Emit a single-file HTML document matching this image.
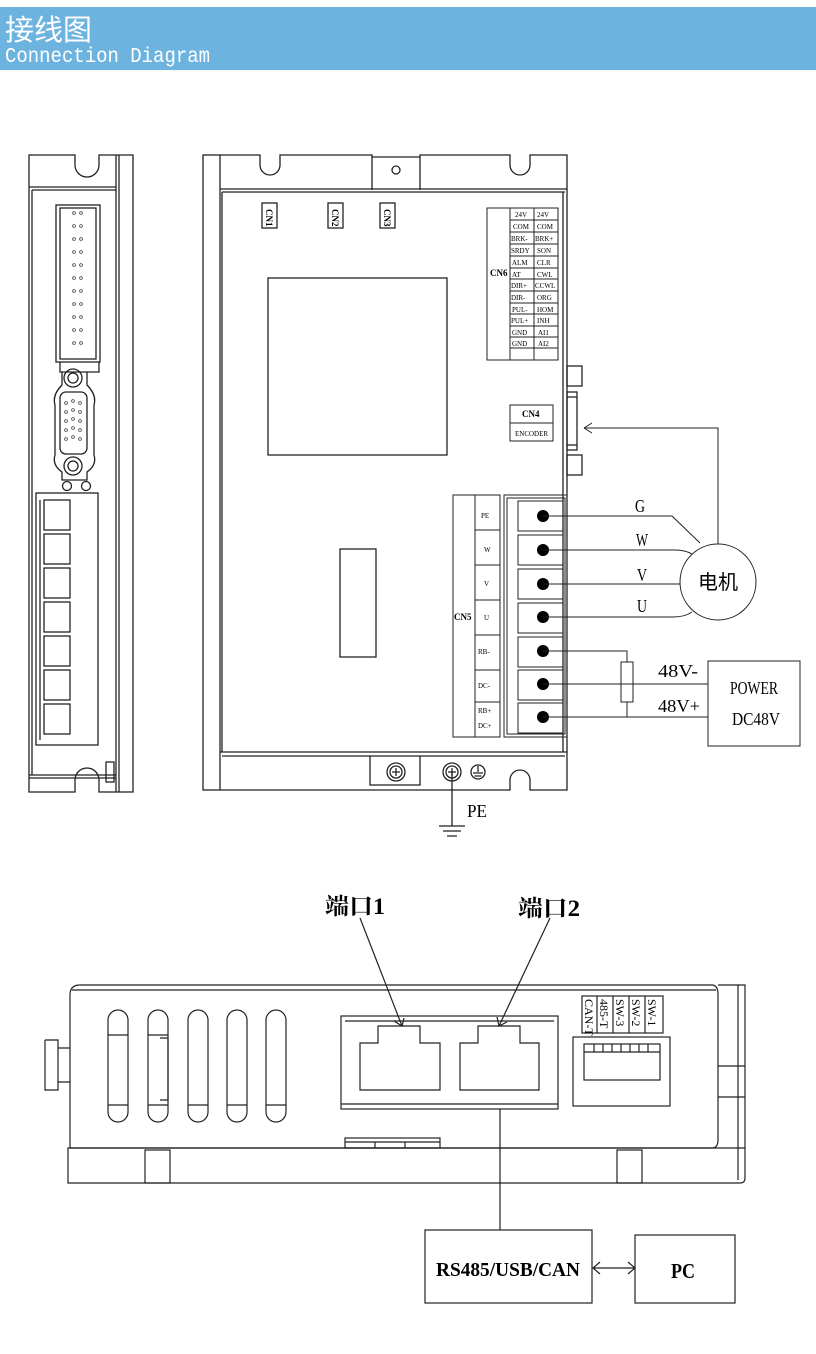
<!DOCTYPE html>
<html><head><meta charset="utf-8"><style>
html,body{margin:0;padding:0;background:#fff;}
svg{display:block;}
text{font-family:"Liberation Serif","Noto Serif CJK SC",serif;fill:#000;}
</style></head><body>
<svg width="816" height="1354" viewBox="0 0 816 1354" xmlns="http://www.w3.org/2000/svg">
<!-- header -->
<rect x="0" y="7" width="816" height="63" fill="#6db3df"/>
<text x="5" y="40" font-size="29" style="font-family:'Liberation Sans','Noto Sans CJK SC',sans-serif;fill:#fff">接线图</text>
<text x="5" y="62" font-size="21" textLength="205" lengthAdjust="spacingAndGlyphs" style="font-family:'Liberation Mono',monospace;fill:#fff">Connection Diagram</text>

<g fill="none" stroke="#222" stroke-width="1.3">
<!-- LEFT SIDE VIEW -->
<path d="M29,155 H75 V165 A12,12 0 0 0 99,165 V155 H133 V792 H99 V780 A12,12 0 0 0 75,780 V792 H29 Z"/>
<line x1="116" y1="155" x2="116" y2="792"/>
<line x1="119" y1="155" x2="119" y2="792"/>
<line x1="29" y1="187" x2="116" y2="187"/>
<line x1="32" y1="190" x2="116" y2="190"/>
<line x1="32" y1="190" x2="32" y2="775"/>
<line x1="29" y1="775" x2="116" y2="775"/>
<line x1="29" y1="778" x2="116" y2="778"/>
<rect x="106" y="762" width="8" height="20"/>
<rect x="56" y="205" width="44" height="157"/>
<rect x="60" y="208" width="36" height="151"/>
<path d="M60,362 V372 H99 V362"/>
<path d="M62,372 L62,385 Q52,395 55,405 L55,455 Q52,465 62,472 L62,480 H87 V472 Q97,465 94,455 V405 Q97,395 87,385 V372"/>
<circle cx="73" cy="378" r="9"/><circle cx="73" cy="378" r="5"/>
<circle cx="73" cy="466" r="9"/><circle cx="73" cy="466" r="5"/>
<rect x="60" y="392" width="27" height="62" rx="6"/>
<circle cx="67" cy="486" r="4.5"/><circle cx="86" cy="486" r="4.5"/>
<rect x="36" y="493" width="62" height="252"/>
<line x1="40" y1="500" x2="40" y2="740"/>
<rect x="44" y="500" width="26" height="30"/>
<rect x="44" y="534" width="26" height="30"/>
<rect x="44" y="568" width="26" height="30"/>
<rect x="44" y="602" width="26" height="30"/>
<rect x="44" y="636" width="26" height="30"/>
<rect x="44" y="670" width="26" height="30"/>
<rect x="44" y="704" width="26" height="30"/>
</g>
<g fill="none" stroke="#444" stroke-width="0.8">
<circle cx="74" cy="213" r="1.4"/><circle cx="81" cy="213" r="1.4"/>
<circle cx="74" cy="226" r="1.4"/><circle cx="81" cy="226" r="1.4"/>
<circle cx="74" cy="239" r="1.4"/><circle cx="81" cy="239" r="1.4"/>
<circle cx="74" cy="252" r="1.4"/><circle cx="81" cy="252" r="1.4"/>
<circle cx="74" cy="265" r="1.4"/><circle cx="81" cy="265" r="1.4"/>
<circle cx="74" cy="278" r="1.4"/><circle cx="81" cy="278" r="1.4"/>
<circle cx="74" cy="291" r="1.4"/><circle cx="81" cy="291" r="1.4"/>
<circle cx="74" cy="304" r="1.4"/><circle cx="81" cy="304" r="1.4"/>
<circle cx="74" cy="317" r="1.4"/><circle cx="81" cy="317" r="1.4"/>
<circle cx="74" cy="330" r="1.4"/><circle cx="81" cy="330" r="1.4"/>
<circle cx="74" cy="343" r="1.4"/><circle cx="81" cy="343" r="1.4"/>
<circle cx="66" cy="403" r="1.4"/><circle cx="73" cy="401" r="1.4"/><circle cx="80" cy="403" r="1.4"/>
<circle cx="66" cy="412" r="1.4"/><circle cx="73" cy="410" r="1.4"/><circle cx="80" cy="412" r="1.4"/>
<circle cx="66" cy="421" r="1.4"/><circle cx="73" cy="419" r="1.4"/><circle cx="80" cy="421" r="1.4"/>
<circle cx="66" cy="430" r="1.4"/><circle cx="73" cy="428" r="1.4"/><circle cx="80" cy="430" r="1.4"/>
<circle cx="66" cy="439" r="1.4"/><circle cx="73" cy="437" r="1.4"/><circle cx="80" cy="439" r="1.4"/>
</g>

<!-- FRONT VIEW -->
<g fill="none" stroke="#222" stroke-width="1.3">
<rect x="203" y="155" width="17" height="635"/>
<path d="M220,155 H260 V165 A10,10 0 0 0 280,165 V155 H372 V157 H420 V155 H510 V165 A10,10 0 0 0 530,165 V155 H567 V790 H530 V780 A10,10 0 0 0 510,780 V790 H220"/>
<path d="M372,157 V190 M420,157 V190"/>
<circle cx="396" cy="170" r="4"/>
<line x1="220" y1="189" x2="567" y2="189"/>
<line x1="222" y1="192" x2="565" y2="192"/>
<line x1="222" y1="192" x2="222" y2="752"/>
<line x1="563" y1="192" x2="563" y2="752"/>
<line x1="220" y1="752" x2="567" y2="752"/>
<line x1="222" y1="756" x2="565" y2="756"/>
<path d="M370,756 V785 H420 V756"/>
<circle cx="396" cy="772" r="9"/><circle cx="396" cy="772" r="6"/>
<path d="M392,772 H400 M396,768 V776"/>
<circle cx="452" cy="772" r="9"/><circle cx="452" cy="772" r="6"/>
<path d="M448,772 H456 M452,768 V776"/>
<circle cx="478" cy="772" r="7"/>
<path d="M478,766 V772 M473,773 H483 M474.5,776 H481.5"/>
<path d="M452,772 V826 M439,826 H465 M443,831 H461 M447,836 H457"/>
<rect x="262" y="203" width="15" height="25"/>
<rect x="328" y="203" width="15" height="25"/>
<rect x="380" y="203" width="15" height="25"/>
<rect x="268" y="278" width="179" height="177"/>
<rect x="340" y="549" width="36" height="108"/>
<rect x="567" y="366" width="15" height="20"/>
<rect x="567" y="392" width="10" height="58"/>
<line x1="567" y1="397" x2="577" y2="397"/><line x1="567" y1="445" x2="577" y2="445"/>
<rect x="567" y="455" width="15" height="20"/>
</g>
<g stroke="#222" stroke-width="1" fill="none">
<rect x="487" y="208" width="71" height="152"/>
<line x1="510" y1="208" x2="510" y2="360"/>
<line x1="534" y1="208" x2="534" y2="360"/>
<path d="M510,220 H558 M510,232 H558 M510,244 H558 M510,256 H558 M510,268 H558 M510,279 H558 M510,291 H558 M510,303 H558 M510,314 H558 M510,326 H558 M510,337 H558 M510,348 H558"/>
<rect x="510" y="405" width="43" height="36"/>
<line x1="510" y1="423" x2="553" y2="423"/>
<rect x="453" y="495" width="47" height="242"/>
<line x1="475" y1="495" x2="475" y2="737"/>
<path d="M475,530 H500 M475,565 H500 M475,600 H500 M475,635 H500 M475,670 H500 M475,702 H500"/>
<rect x="504" y="495" width="63" height="242"/>
<rect x="507" y="498" width="58" height="236"/>
<rect x="518" y="501" width="45" height="30"/>
<rect x="518" y="535" width="45" height="30"/>
<rect x="518" y="569" width="45" height="30"/>
<rect x="518" y="603" width="45" height="30"/>
<rect x="518" y="637" width="45" height="30"/>
<rect x="518" y="670" width="45" height="30"/>
<rect x="518" y="703" width="45" height="30"/>
</g>
<g fill="#000">
<circle cx="543" cy="516" r="6"/><circle cx="543" cy="550" r="6"/><circle cx="543" cy="584" r="6"/>
<circle cx="543" cy="617" r="6"/><circle cx="543" cy="651" r="6"/><circle cx="543" cy="684" r="6"/><circle cx="543" cy="717" r="6"/>
</g>
<g stroke="#222" stroke-width="1" fill="none">
<path d="M543,516 H672 L700,543"/>
<path d="M543,550 H675 Q685,550 692,554"/>
<path d="M543,584 H680"/>
<path d="M543,617 H673 Q685,617 692,612"/>
<circle cx="718" cy="582" r="38"/>
<path d="M718,544 V428 H584 M584,428 L592,423 M584,428 L592,433"/>
<path d="M543,651 H627 V662 M627,702 V717"/>
<rect x="621" y="662" width="12" height="40"/>
<path d="M543,684 H708 M543,717 H708"/>
<rect x="708" y="661" width="92" height="85"/>
</g>
<g font-size="7">
<text x="515" y="217" fill="#777">24V</text><text x="537" y="217" fill="#777">24V</text>
<text x="513" y="229" fill="#777">COM</text><text x="537" y="229" fill="#777">COM</text>
<text x="511" y="241">BRK-</text><text x="535" y="241">BRK+</text>
<text x="511" y="253">SRDY</text><text x="537" y="253">SON</text>
<text x="512" y="265">ALM</text><text x="537" y="265">CLR</text>
<text x="512" y="277">AT</text><text x="537" y="277">CWL</text>
<text x="511" y="288">DIR+</text><text x="535" y="288">CCWL</text>
<text x="511" y="300">DIR-</text><text x="537" y="300">ORG</text>
<text x="512" y="312">PUL-</text><text x="537" y="312">HOM</text>
<text x="511" y="323">PUL+</text><text x="537" y="323">INH</text>
<text x="512" y="335">GND</text><text x="538" y="335">AI1</text>
<text x="512" y="346">GND</text><text x="538" y="346">AI2</text>
<text x="515" y="436">ENCODER</text>
<text x="481" y="518">PE</text><text x="484" y="552">W</text><text x="484" y="586">V</text><text x="484" y="620">U</text>
<text x="478" y="654">RB-</text><text x="478" y="688">DC-</text><text x="478" y="713">RB+</text><text x="478" y="728">DC+</text>
</g>
<g font-size="9" font-weight="bold">
<text x="490" y="276">CN6</text>
<text x="522" y="417">CN4</text>
<text x="454" y="620">CN5</text>
<text transform="translate(266,209) rotate(90)">CN1</text>
<text transform="translate(332,209) rotate(90)">CN2</text>
<text transform="translate(384,209) rotate(90)">CN3</text>
</g>
<g font-size="18">
<text x="635" y="512" textLength="10" lengthAdjust="spacingAndGlyphs">G</text>
<text x="636" y="546" textLength="12" lengthAdjust="spacingAndGlyphs">W</text>
<text x="637" y="581" textLength="10" lengthAdjust="spacingAndGlyphs">V</text>
<text x="637" y="612" textLength="10" lengthAdjust="spacingAndGlyphs">U</text>
<text x="658" y="677" textLength="40" lengthAdjust="spacingAndGlyphs">48V-</text>
<text x="658" y="712" textLength="42" lengthAdjust="spacingAndGlyphs">48V+</text>
<text x="730" y="694" textLength="48" lengthAdjust="spacingAndGlyphs">POWER</text>
<text x="732" y="725" textLength="48" lengthAdjust="spacingAndGlyphs">DC48V</text>
<text x="467" y="817" textLength="20" lengthAdjust="spacingAndGlyphs">PE</text>
</g>
<text x="718" y="589" text-anchor="middle" font-size="20" style="font-family:'Liberation Sans','Noto Sans CJK SC',sans-serif">电机</text>

<!-- BOTTOM VIEW -->
<text x="325" y="914" font-size="23" font-weight="bold" textLength="60" lengthAdjust="spacingAndGlyphs">端口1</text>
<text x="518" y="916" font-size="23" font-weight="bold" textLength="62" lengthAdjust="spacingAndGlyphs">端口2</text>
<g fill="none" stroke="#222" stroke-width="1.2">
<path d="M360,918 L402,1026 M394,1021 L402,1026 L404,1018"/>
<path d="M550,918 L499,1026 M497,1017 L499,1026 L507,1022"/>
<path d="M70,995 Q70,985 80,985 H712 Q718,985 718,995 V1140 Q718,1148 712,1148 H70 Z"/>
<line x1="72" y1="990" x2="716" y2="990"/>
<path d="M68,1148 H745 V1178 Q745,1183 740,1183 H68 Z"/>
<path d="M718,985 H745 V1148"/>
<line x1="738" y1="985" x2="738" y2="1180"/>
<path d="M718,1066 H745 M718,1097 H745"/>
<rect x="145" y="1150" width="25" height="33"/>
<rect x="617" y="1150" width="25" height="33"/>
<path d="M45,1040 H58 V1048 H70 M45,1040 V1090 H58 V1082 H70 M58,1048 V1082"/>
<rect x="108" y="1010" width="20" height="112" rx="10"/>
<rect x="148" y="1010" width="20" height="112" rx="10"/>
<rect x="188" y="1010" width="20" height="112" rx="10"/>
<rect x="227" y="1010" width="20" height="112" rx="10"/>
<rect x="266" y="1010" width="20" height="112" rx="10"/>
<path d="M108,1035 H128 M108,1105 H128 M148,1035 H168 M148,1105 H168 M188,1105 H208 M227,1105 H247 M266,1105 H286 M160,1038 H168 V1100 H160"/>
<rect x="341" y="1016" width="217" height="93"/>
<line x1="341" y1="1104" x2="558" y2="1104"/>
<line x1="345" y1="1021" x2="554" y2="1021"/>
<path d="M360,1090 V1043 H378 V1026 H420 V1043 H440 V1090 Z"/>
<path d="M460,1090 V1043 H478 V1026 H520 V1043 H539 V1090 Z"/>
<rect x="345" y="1138" width="95" height="10"/>
<path d="M375,1142 V1148 M405,1142 V1148 M345,1142 H440"/>
<rect x="573" y="1037" width="97" height="69"/>
<rect x="584" y="1044" width="76" height="36"/>
<path d="M584,1052 H660 M594,1044 V1052 M603,1044 V1052 M612,1044 V1052 M621,1044 V1052 M630,1044 V1052 M639,1044 V1052 M648,1044 V1052"/>
<rect x="582" y="996" width="81" height="37"/>
<path d="M597,996 V1033 M613,996 V1033 M629,996 V1033 M645,996 V1033"/>
<line x1="500" y1="1109" x2="500" y2="1230"/>
<rect x="425" y="1230" width="167" height="73"/>
<rect x="635" y="1235" width="100" height="68"/>
<path d="M593,1268 H635 M600,1262 L593,1268 L600,1274 M628,1262 L635,1268 L628,1274"/>
</g>
<g font-size="12" style="font-family:'Liberation Sans',sans-serif">
<text transform="translate(585,999) rotate(90)">CAN-T</text>
<text transform="translate(600,999) rotate(90)">485-T</text>
<text transform="translate(616,999) rotate(90)">SW-3</text>
<text transform="translate(632,999) rotate(90)">SW-2</text>
<text transform="translate(648,999) rotate(90)">SW-1</text>
</g>
<text x="508" y="1276" text-anchor="middle" font-size="20" font-weight="bold" textLength="144" lengthAdjust="spacingAndGlyphs">RS485/USB/CAN</text>
<text x="683" y="1278" text-anchor="middle" font-size="21" font-weight="bold" textLength="24" lengthAdjust="spacingAndGlyphs">PC</text>
</svg>
</body></html>
